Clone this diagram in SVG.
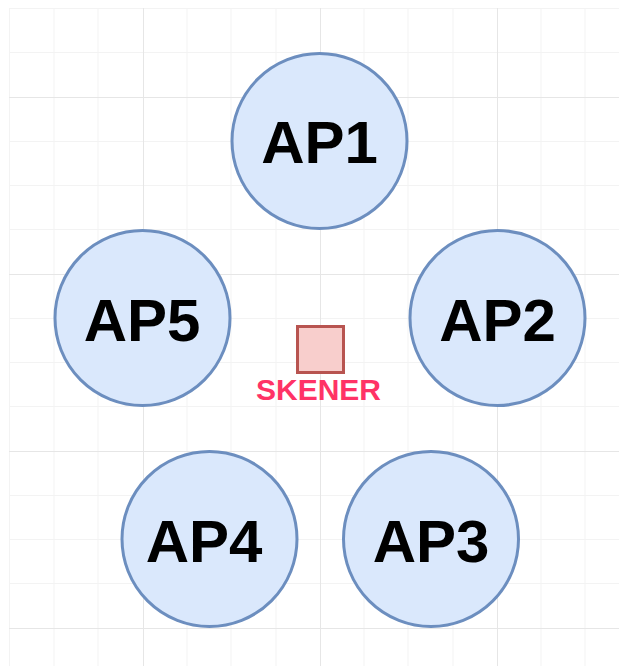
<svg xmlns="http://www.w3.org/2000/svg" width="619" height="666" viewBox="0 0 619 666">
<defs>
<style>
.minor{stroke:#f3f3f3;stroke-width:1}
.major{stroke:#e6e6e6;stroke-width:1}
.ap circle{fill:#dae8fc;stroke:#6c8ebf;stroke-width:3}
.ap text{font-family:"Liberation Sans",Arial,sans-serif;font-weight:bold;font-size:60px;fill:#000;text-anchor:middle}
</style>
</defs>
<rect width="619" height="666" fill="#fff"/>
<g id="grid">
<g class="minor">
<path d="M9.5 8V666M54 8V666M98 8V666M187 8V666M231 8V666M276 8V666M364 8V666M408 8V666M453 8V666M541 8V666M585 8V666"/>
<path d="M9 8.5H619M9 52.5H619M9 141.5H619M9 185.5H619M9 229.5H619M9 318.5H619M9 362.5H619M9 406.5H619M9 495.5H619M9 539.5H619M9 583.5H619"/>
</g>
<g class="major">
<path d="M143.5 8V666M320.5 8V666M497.5 8V666"/>
<path d="M9 97.5H619M9 274.5H619M9 451.5H619M9 628.5H619"/>
</g>
</g>
<g id="AP1" class="ap"><circle cx="319.5" cy="141" r="87.5"/><text x="319.5" y="163">AP1</text></g>
<g id="AP2" class="ap"><circle cx="497.5" cy="318" r="87.5"/><text x="497.5" y="341">AP2</text></g>
<g id="AP3" class="ap"><circle cx="431" cy="539" r="87.5"/><text x="431" y="562">AP3</text></g>
<g id="AP4" class="ap"><circle cx="209.5" cy="539" r="87.5"/><text x="204" y="562">AP4</text></g>
<g id="AP5" class="ap"><circle cx="142.5" cy="318" r="87.5"/><text x="142" y="341">AP5</text></g>
<g id="skener">
<rect x="297.5" y="326.5" width="46" height="46" fill="#f8cecc" stroke="#b85450" stroke-width="3"/>
<text x="318.5" y="400" font-family="'Liberation Sans',Arial,sans-serif" font-weight="bold" font-size="30" fill="#ff3366" text-anchor="middle">SKENER</text>
</g>
<g id="connectors"/>
</svg>
